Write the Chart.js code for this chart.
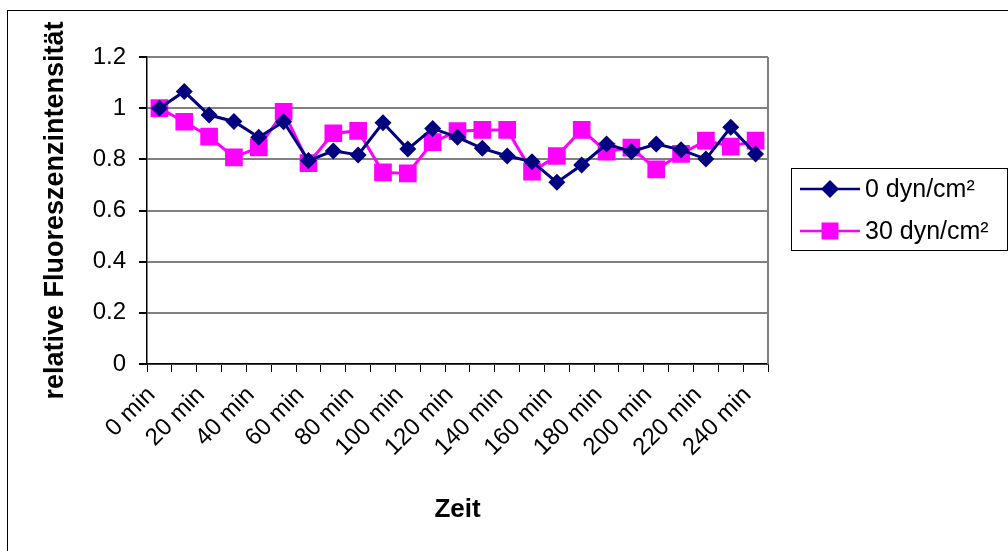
<!DOCTYPE html>
<html>
<head>
<meta charset="utf-8">
<script src="https://cdn.jsdelivr.net/npm/chart.js@4.4.0/dist/chart.umd.min.js"></script>
<style>
  html, body { margin: 0; padding: 0; background: #fff; }
</style>
</head>
<body>
<canvas id="grafico" width="1008" height="551"></canvas>
<script>
// Zeitpunkte der Messung
const zeiten = ['0 min', '10 min', '20 min', '30 min', '40 min', '50 min', '60 min', '70 min', '80 min',
  '90 min', '100 min', '110 min', '120 min', '130 min', '140 min', '150 min', '160 min', '170 min',
  '180 min', '190 min', '200 min', '210 min', '220 min', '230 min', '240 min'];

// relative Fluoreszenzintensität
const werte0dyn = [1.0, 1.065, 0.973, 0.948, 0.886, 0.947, 0.795, 0.833, 0.817, 0.943, 0.84, 0.921,
  0.886, 0.843, 0.813, 0.791, 0.71, 0.778, 0.86, 0.83, 0.86, 0.837, 0.801, 0.925, 0.821];
const werte30dyn = [1.0, 0.947, 0.889, 0.808, 0.847, 0.986, 0.785, 0.902, 0.911, 0.749, 0.745, 0.867,
  0.91, 0.915, 0.915, 0.752, 0.813, 0.915, 0.83, 0.846, 0.761, 0.821, 0.873, 0.85, 0.873];

const serien = ['0 dyn/cm²', '30 dyn/cm²'];
const farben = ['#000080', '#FF00FF'];

const schrift = 'Arial, "Liberation Sans", sans-serif';

// Rahmen, rechte Kante und Legende wie in Excel
const rahmenPlugin = {
  id: 'rahmen',
  afterDraw(chart) {
    const ctx = chart.ctx;
    const a = chart.chartArea;
    ctx.save();
    // äußerer Rahmen
    ctx.strokeStyle = '#000';
    ctx.lineWidth = 1;
    ctx.strokeRect(7.5, 10.5, 1100, 1100);
    // rechte Kante der Zeichenfläche
    ctx.strokeStyle = '#808080';
    ctx.lineWidth = 2;
    ctx.beginPath();
    ctx.moveTo(a.right, a.top);
    ctx.lineTo(a.right, a.bottom);
    ctx.stroke();

    // Legende
    ctx.strokeStyle = '#000';
    ctx.lineWidth = 1;
    ctx.strokeRect(791.5, 168.5, 216, 82);
    const zeilen = [189, 231];
    ctx.font = '25px ' + schrift;
    ctx.textBaseline = 'middle';
    ctx.fillStyle = '#000';
    zeilen.forEach((y, i) => {
      ctx.strokeStyle = farben[i];
      ctx.lineWidth = 2.5;
      ctx.beginPath();
      ctx.moveTo(800, y);
      ctx.lineTo(860, y);
      ctx.stroke();
      ctx.fillStyle = farben[i];
      if (i === 0) {
        ctx.beginPath();
        ctx.moveTo(830 - 9, y);
        ctx.lineTo(830, y - 9);
        ctx.lineTo(830 + 9, y);
        ctx.lineTo(830, y + 9);
        ctx.closePath();
        ctx.fill();
      } else {
        ctx.fillRect(830 - 8.5, y - 8.5, 17, 17);
      }
      ctx.fillStyle = '#000';
      ctx.fillText(serien[i], 865, y + 1);
    });
    ctx.restore();
  }
};

const ctx = document.getElementById('grafico').getContext('2d');

const chart = new Chart(ctx, {
  type: 'line',
  data: {
    labels: zeiten,
    datasets: [{
      label: serien[0],
      data: werte0dyn,
      borderColor: farben[0],
      backgroundColor: farben[0],
      borderWidth: 3,
      pointStyle: 'rectRot',
      pointRadius: 8.5,
      pointBorderWidth: 0,
      tension: 0,
      fill: false
    },
    {
      label: serien[1],
      data: werte30dyn,
      borderColor: farben[1],
      backgroundColor: farben[1],
      borderWidth: 3,
      pointStyle: 'rect',
      pointRadius: 12.5,
      pointBorderWidth: 0,
      tension: 0,
      fill: false
    }]
  },
  options: {
    responsive: false,
    animation: false,
    layout: { padding: { left: 0, top: 57, right: 240, bottom: 0 } },
    plugins: {
      legend: { display: false },
      tooltip: { enabled: false }
    },
    scales: {
      x: {
        offset: true,
        afterFit(s) { s.height = 187; },
        grid: { drawOnChartArea: false, offset: true, tickLength: 8, tickColor: '#000' },
        border: { color: '#000', width: 1.5 },
        ticks: {
          autoSkip: false,
          minRotation: 45,
          maxRotation: 45,
          color: '#000',
          padding: 9,
          labelOffset: -8,
          font: { family: schrift, size: 24 },
          callback: (wert, i) => i % 2 === 0 ? zeiten[i] : ''
        },
        title: {
          display: true,
          text: 'Zeit',
          color: '#000',
          font: { family: schrift, size: 26, weight: 'bold' },
          padding: { top: 0, bottom: 26 }
        }
      },
      y: {
        min: 0,
        max: 1.2,
        afterFit(s) { s.width = 147; },
        grid: { color: '#808080', lineWidth: 2, tickLength: 8, tickColor: '#000' },
        border: { color: '#000', width: 1.5 },
        ticks: {
          stepSize: 0.2,
          color: '#000',
          padding: 13,
          font: { family: schrift, size: 24 },
          callback: (wert) => String(+wert.toFixed(1))
        },
        title: {
          display: true,
          text: 'relative Fluoreszenzintensität',
          color: '#000',
          font: { family: schrift, size: 27, weight: 'bold' },
          padding: { top: 39, bottom: 0 }
        }
      }
    }
  },
  plugins: [rahmenPlugin]
});
</script>
</body>
</html>
